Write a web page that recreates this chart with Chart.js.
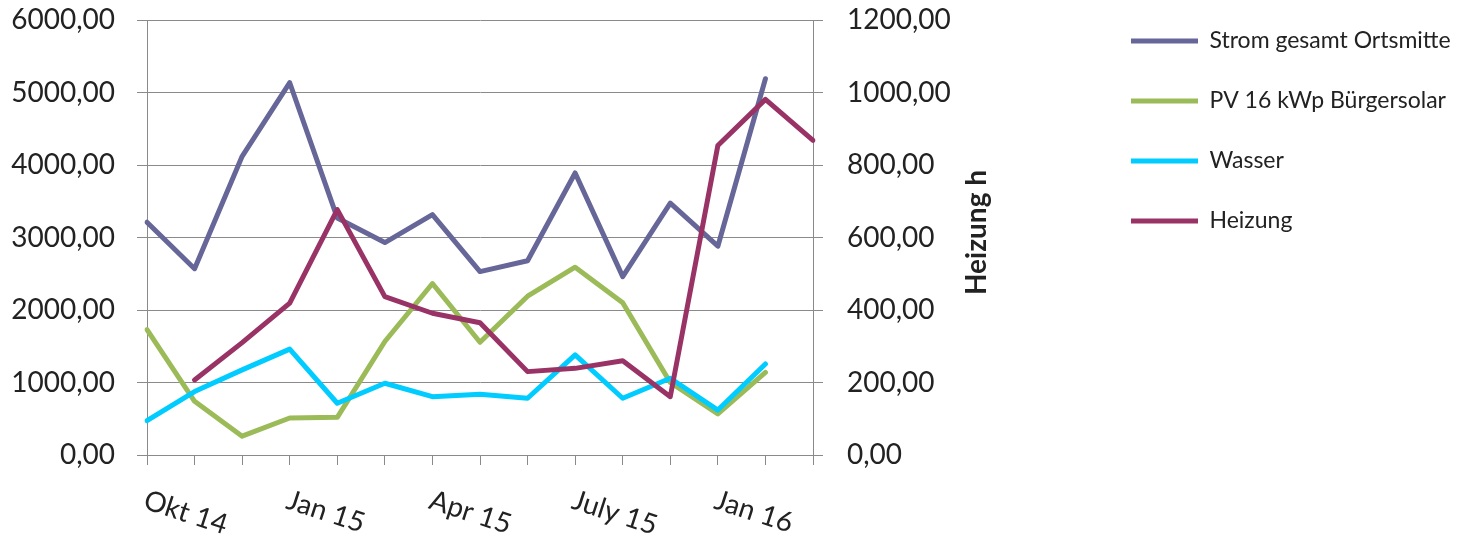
<!DOCTYPE html>
<html>
<head>
<meta charset="utf-8">
<script src="https://cdn.jsdelivr.net/npm/chart.js@4/dist/chart.umd.min.js"></script>
<style>
  html, body { margin: 0; padding: 0; background: #fff; }
  #wrap { width: 1464px; height: 542px; }
</style>
</head>
<body>
<div id="wrap"><canvas id="graph"></canvas></div>
<script>
// categories (only every third label is shown in the original)
var categories = ["Okt 14", "", "", "Jan 15", "", "", "Apr 15", "", "", "July 15", "", "", "Jan 16", "", ""];

var strom  = [3210, 2570, 4120, 5135, 3270, 2930, 3315, 2530, 2680, 3890, 2460, 3475, 2880, 5190, null];
var pv     = [1730, 740, 260, 510, 520, 1565, 2365, 1555, 2190, 2590, 2100, 1000, 566, 1140, null];
var wasser = [474, 875, 1174, 1460, 714, 990, 805, 838, 783, 1381, 783, 1059, 620, 1255, null];
var heizung = [null, 207, 310, 419, 677, 437, 391, 365, 230, 239, 260, 161, 854, 981, 868];

var rightTitle = "Heizung h";

Chart.defaults.font.family = "Lato";
Chart.defaults.color = "#222";

var textCol = "#222";
var gridCol = "#8a8a8a";
var padRight = 11;

function fmt(v) {
    return v.toFixed(2).replace(".", ",");
}

// draws the x labels rotated downward and the left-reading right axis title
var extraText = {
    id: "extraText",
    afterDraw: function (chart) {
        var ctx = chart.ctx;
        var xs = chart.scales.x;
        var y1 = chart.scales.y1;
        ctx.save();
        ctx.fillStyle = textCol;
        ctx.font = "28px Lato";
        ctx.textAlign = "left";
        ctx.textBaseline = "alphabetic";
        for (var i = 0; i < categories.length; i++) {
            if (!categories[i]) continue;
            ctx.save();
            ctx.translate(xs.getPixelForValue(i) - 5, xs.top + 53);
            ctx.rotate(18 * Math.PI / 180);
            ctx.fillText(categories[i], 0, 0);
            ctx.restore();
        }
        ctx.font = "bold 28px Lato";
        ctx.textAlign = "center";
        ctx.textBaseline = "middle";
        ctx.translate(y1.left + 164, (y1.top + y1.bottom) / 2 - 5);
        ctx.rotate(-Math.PI / 2);
        ctx.fillText(rightTitle, 0, 0);
        ctx.restore();
    }
};

// place the legend block: first entry near the top, text ending near the right edge
var legendShift = {
    id: "legendShift",
    afterLayout: function (chart) {
        var l = chart.legend;
        var h = l.bottom - l.top;
        l.top = -7.5;
        l.bottom = l.top + h;
        l.left = 1094;
        l.right = chart.width;
        l.width = l.right - l.left;
    }
};

// keep the plot top at 20px (tick padding would otherwise push it down)
function yFit(s) {
    s.paddingTop = 20;
    s.paddingBottom = 0;
}

var ctx = document.getElementById("graph").getContext("2d");

var graph = new Chart(ctx, {
    type: "line",
    data: {
        labels: categories,
        datasets: [{
            label: "Strom gesamt Ortsmitte",
            data: strom,
            borderColor: "#666699",
            backgroundColor: "#666699",
            borderWidth: 5,
            yAxisID: "y",
            order: 4
        }, {
            label: "PV 16 kWp Bürgersolar",
            data: pv,
            borderColor: "#9bbb59",
            backgroundColor: "#9bbb59",
            borderWidth: 5,
            yAxisID: "y",
            order: 3
        }, {
            label: "Wasser",
            data: wasser,
            borderColor: "#00ccff",
            backgroundColor: "#00ccff",
            borderWidth: 5,
            yAxisID: "y",
            order: 2
        }, {
            label: "Heizung",
            data: heizung,
            borderColor: "#993366",
            backgroundColor: "#993366",
            borderWidth: 5,
            yAxisID: "y1",
            order: 1
        }]
    },
    options: {
        responsive: true,
        maintainAspectRatio: false,
        animation: false,
        layout: { padding: { left: 0, top: 0, right: padRight, bottom: 0 } },
        elements: {
            line: { borderWidth: 5, tension: 0, borderJoinStyle: "round", borderCapStyle: "round" },
            point: { radius: 0, hoverRadius: 0 }
        },
        plugins: {
            tooltip: { enabled: false },
            legend: {
                position: "right",
                align: "start",
                labels: {
                    usePointStyle: true,
                    pointStyle: "line",
                    pointStyleWidth: 67,
                    padding: 37,
                    color: textCol,
                    font: { size: 23 },
                    sort: function (a, b) { return a.datasetIndex - b.datasetIndex; }
                }
            }
        },
        scales: {
            x: {
                type: "category",
                offset: false,
                grid: { display: true, drawOnChartArea: false, drawTicks: true, tickLength: 10, color: gridCol },
                border: { display: true, color: gridCol },
                ticks: { display: false, autoSkip: false },
                afterFit: function (s) { s.height = 87; }
            },
            y: {
                position: "left",
                min: 0,
                max: 6000,
                ticks: { stepSize: 1000, padding: 22, color: textCol, font: { size: 28 }, callback: fmt },
                grid: { color: gridCol, tickLength: 10 },
                border: { display: true, color: gridCol },
                afterFit: function (s) { s.width = 147; yFit(s); }
            },
            y1: {
                position: "right",
                min: 0,
                max: 1200,
                ticks: { stepSize: 200, padding: 24, color: textCol, font: { size: 28 }, callback: fmt },
                grid: { drawOnChartArea: false, color: gridCol, tickLength: 10 },
                border: { display: true, color: gridCol },
                afterFit: function (s) {
                    var lw = s.chart.legend ? s.chart.legend.width : 240;
                    s.width = s.chart.width - padRight - lw - 813;
                    yFit(s);
                }
            }
        }
    },
    plugins: [extraText, legendShift]
});
</script>
</body>
</html>
